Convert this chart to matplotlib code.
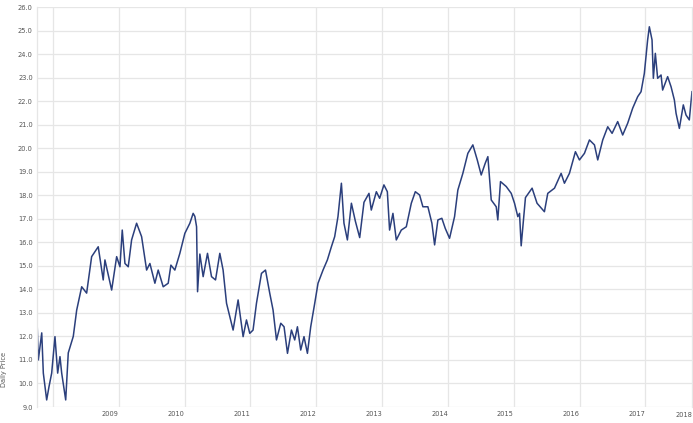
import matplotlib.pyplot as plt

# decimal year of each traced point and its daily price
years = [
    2007.753, 2007.777, 2007.829, 2007.853, 2007.904, 2007.939, 2007.980, 2008.030,
    2008.071, 2008.106, 2008.132, 2008.193, 2008.232, 2008.308, 2008.360, 2008.436,
    2008.511, 2008.587, 2008.687, 2008.763, 2008.789, 2008.891, 2008.967, 2009.017,
    2009.052, 2009.093, 2009.143, 2009.194, 2009.270, 2009.346, 2009.422, 2009.472,
    2009.548, 2009.598, 2009.674, 2009.750, 2009.791, 2009.851, 2009.927, 2010.003,
    2010.079, 2010.129, 2010.155, 2010.181, 2010.196, 2010.231, 2010.281, 2010.347,
    2010.408, 2010.469, 2010.534, 2010.584, 2010.636, 2010.686, 2010.736, 2010.812,
    2010.888, 2010.939, 2010.989, 2011.039, 2011.091, 2011.167, 2011.228, 2011.293,
    2011.343, 2011.395, 2011.460, 2011.510, 2011.562, 2011.622, 2011.672, 2011.713,
    2011.763, 2011.813, 2011.865, 2011.915, 2011.976, 2012.026, 2012.102, 2012.168,
    2012.229, 2012.279, 2012.329, 2012.381, 2012.420, 2012.472, 2012.533, 2012.593,
    2012.659, 2012.724, 2012.800, 2012.835, 2012.912, 2012.962, 2013.027, 2013.079,
    2013.113, 2013.164, 2013.215, 2013.291, 2013.367, 2013.443, 2013.504, 2013.569,
    2013.619, 2013.695, 2013.756, 2013.797, 2013.847, 2013.907, 2013.959, 2014.024,
    2014.100, 2014.150, 2014.226, 2014.302, 2014.378, 2014.445, 2014.505, 2014.566,
    2014.606, 2014.657, 2014.733, 2014.757, 2014.798, 2014.885, 2014.961, 2015.011,
    2015.061, 2015.087, 2015.112, 2015.177, 2015.278, 2015.353, 2015.465, 2015.516,
    2015.618, 2015.719, 2015.769, 2015.845, 2015.936, 2015.997, 2016.073, 2016.149,
    2016.225, 2016.275, 2016.351, 2016.427, 2016.493, 2016.578, 2016.654, 2016.730,
    2016.806, 2016.882, 2016.933, 2016.983, 2017.033, 2017.059, 2017.100, 2017.120,
    2017.150, 2017.185, 2017.237, 2017.261, 2017.337, 2017.389, 2017.439, 2017.465,
    2017.515, 2017.575, 2017.616, 2017.666, 2017.707,
]

prices = [
    13.05, 11.00, 12.15, 10.44, 9.30, 9.86, 10.44, 11.99,
    10.44, 11.14, 10.44, 9.30, 11.30, 12.00, 13.12, 14.11,
    13.84, 15.39, 15.81, 14.40, 15.25, 13.97, 15.39, 14.96,
    16.52, 15.10, 14.96, 16.10, 16.81, 16.24, 14.82, 15.10,
    14.26, 14.82, 14.11, 14.26, 15.03, 14.82, 15.53, 16.38,
    16.81, 17.23, 17.10, 16.66, 13.90, 15.50, 14.54, 15.53,
    14.54, 14.40, 15.53, 14.82, 13.41, 12.84, 12.27, 13.55,
    11.99, 12.70, 12.13, 12.27, 13.41, 14.68, 14.82, 13.83,
    13.12, 11.85, 12.56, 12.41, 11.28, 12.27, 11.85, 12.41,
    11.42, 11.99, 11.28, 12.41, 13.41, 14.26, 14.82, 15.25,
    15.81, 16.24, 17.09, 18.51, 16.81, 16.10, 17.66, 16.90,
    16.20, 17.70, 18.08, 17.37, 18.15, 17.87, 18.44, 18.15,
    16.52, 17.23, 16.10, 16.52, 16.66, 17.66, 18.15, 18.01,
    17.51, 17.51, 16.81, 15.89, 16.95, 17.02, 16.59, 16.17,
    17.09, 18.22, 18.93, 19.78, 20.14, 19.50, 18.86, 19.36,
    19.64, 17.80, 17.51, 16.95, 18.58, 18.37, 18.08, 17.66,
    17.09, 17.23, 15.85, 17.90, 18.30, 17.66, 17.30, 18.08,
    18.30, 18.93, 18.51, 18.93, 19.85, 19.50, 19.78, 20.35,
    20.14, 19.50, 20.35, 20.91, 20.63, 21.13, 20.56, 21.06,
    21.70, 22.19, 22.40, 23.18, 24.60, 25.16, 24.60, 22.97,
    24.03, 22.97, 23.11, 22.47, 23.04, 22.61, 22.05, 21.48,
    20.84, 21.84, 21.41, 21.20, 22.40,
]

year_ticks = [2008, 2009, 2010, 2011, 2012, 2013, 2014, 2015, 2016, 2017]
year_labels = ["", "2009", "2010", "2011", "2012", "2013", "2014", "2015", "2016", "2017"]
price_ticks = [9.0 + i for i in range(18)]

fig = plt.figure(figsize=(6.93, 4.23), dpi=100)
ax = fig.add_axes([37 / 693, 16 / 423, 655 / 693, 400 / 423])

ax.plot(years, prices, color="#2b3f7c", linewidth=1.1)

ax.set_xlim(2007.757, 2017.707)
ax.set_ylim(9.0, 26.0)

ax.set_yticks(price_ticks)
ax.set_yticklabels([f"{p:.1f}" for p in price_ticks])
ax.set_xticks(year_ticks)
ax.set_xticklabels(year_labels, ha="right")
ax.text(1.0, -0.012, "2018", transform=ax.transAxes, ha="right", va="top",
        fontsize=4.8, color="#555555")

ax.grid(True, color="#e6e6e6", linewidth=0.9)
ax.set_axisbelow(True)
ax.tick_params(length=0, labelsize=4.8, labelcolor="#555555", pad=3)
for side in ["top", "bottom"]:
    ax.spines[side].set_visible(False)
for side in ["left", "right"]:
    ax.spines[side].set_color("#e6e6e6")
    ax.spines[side].set_linewidth(0.9)

ax.set_ylabel("Daily Price", fontsize=4.8, color="#555555")
ax.yaxis.set_label_coords(-0.046, 0.095)

fig.savefig("out.png", dpi=100)
